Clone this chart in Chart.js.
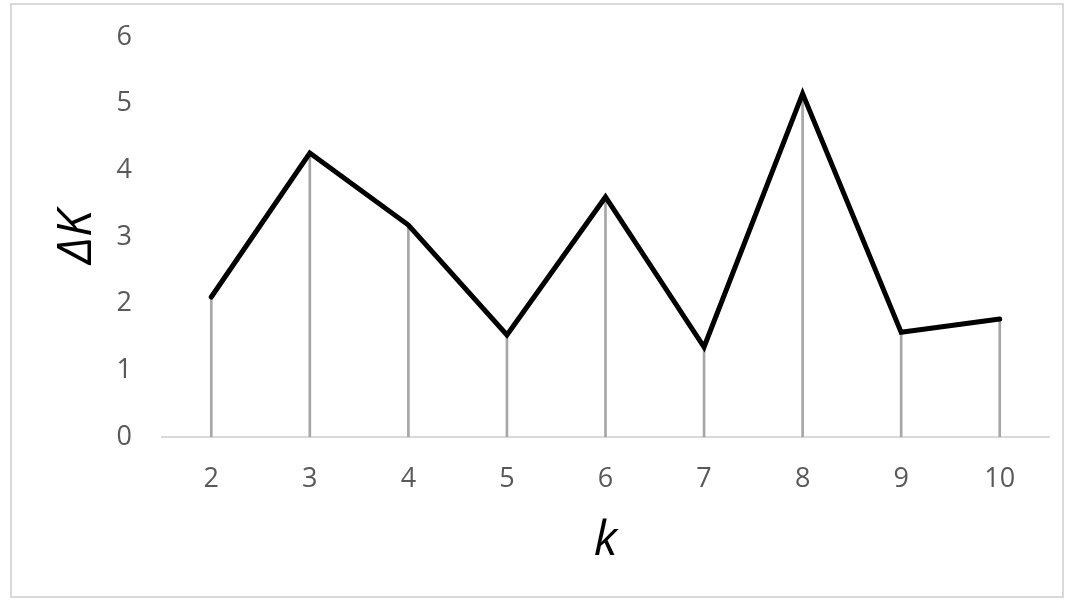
<!DOCTYPE html>
<html lang="en">

<head>
  <meta charset="UTF-8" />
  <title>Delta K</title>
  <script src="https://cdn.jsdelivr.net/npm/chart.js"></script>
  <style>
    html, body { margin: 0; padding: 0; background: #fff; }
    .moldura {
      position: absolute; left: 10px; top: 3px;
      width: 1050px; height: 591px;
      border: 2px solid #d9d9d9;
    }
    .chart-container { position: absolute; left: 0; top: 0; width: 1066px; height: 600px; }
  </style>
</head>

<body>
  <div class="moldura"></div>
  <div class="chart-container">
    <canvas id="graficoDeltaK" width="1066" height="600"></canvas>
  </div>

  <script>
    // valores
    const categorias = ["2", "3", "4", "5", "6", "7", "8", "9", "10"];
    const valoresDeltaK = [2.1, 4.26, 3.18, 1.53, 3.6, 1.35, 5.15, 1.57, 1.77];
    const ticksY = [0, 1, 2, 3, 4, 5, 6];

    const fonte = "'Open Sans', sans-serif";

    var ctx = document.getElementById("graficoDeltaK").getContext("2d");
    var grafico = new Chart(ctx, {
      data: {
        labels: categorias,
        datasets: [
          {
            type: "line",
            label: "ΔK",
            data: valoresDeltaK,
            borderColor: "#000000",
            borderWidth: 5,
            borderCapStyle: "round",
            pointRadius: 0,
            tension: 0,
            order: 1,
          },
          {
            // linhas verticais até o eixo
            type: "bar",
            label: "queda",
            data: valoresDeltaK,
            backgroundColor: "#a6a6a6",
            barThickness: 2,
            order: 2,
          },
        ],
      },
      options: {
        responsive: false,
        animation: false,
        layout: { padding: { top: 37, right: 17, left: 0, bottom: 0 } },
        plugins: {
          legend: { display: false },
          tooltip: { enabled: false },
        },
        scales: {
          x: {
            offset: true,
            grid: { display: false, drawTicks: false },
            border: { display: true, color: "#d9d9d9", width: 2 },
            ticks: {
              color: "#595959",
              padding: 26,
              font: { family: fonte, size: 27 },
            },
            title: {
              display: true,
              text: "k",
              color: "#000000",
              padding: { top: 0, bottom: 30 },
              font: { family: fonte, size: 48, style: "italic" },
            },
            afterFit: function (scale) { scale.height = 163; },
          },
          y: {
            min: 0,
            max: 6,
            afterBuildTicks: function (scale) {
              scale.ticks = ticksY.map(function (v) { return { value: v }; });
            },
            grid: { display: false, drawTicks: false },
            border: { display: false },
            ticks: {
              color: "#595959",
              padding: 30,
              font: { family: fonte, size: 27 },
            },
            title: {
              display: true,
              text: "ΔK",
              color: "#000000",
              padding: { top: 49, bottom: 0 },
              font: { family: fonte, size: 48, style: "italic" },
            },
            afterFit: function (scale) {
              scale.width = 162;
              // o padding top do rótulo não deve empurrar a área do gráfico
              scale.paddingTop = 0;
              scale.paddingBottom = 0;
            },
          },
        },
      },
    });
  </script>
</body>

</html>
